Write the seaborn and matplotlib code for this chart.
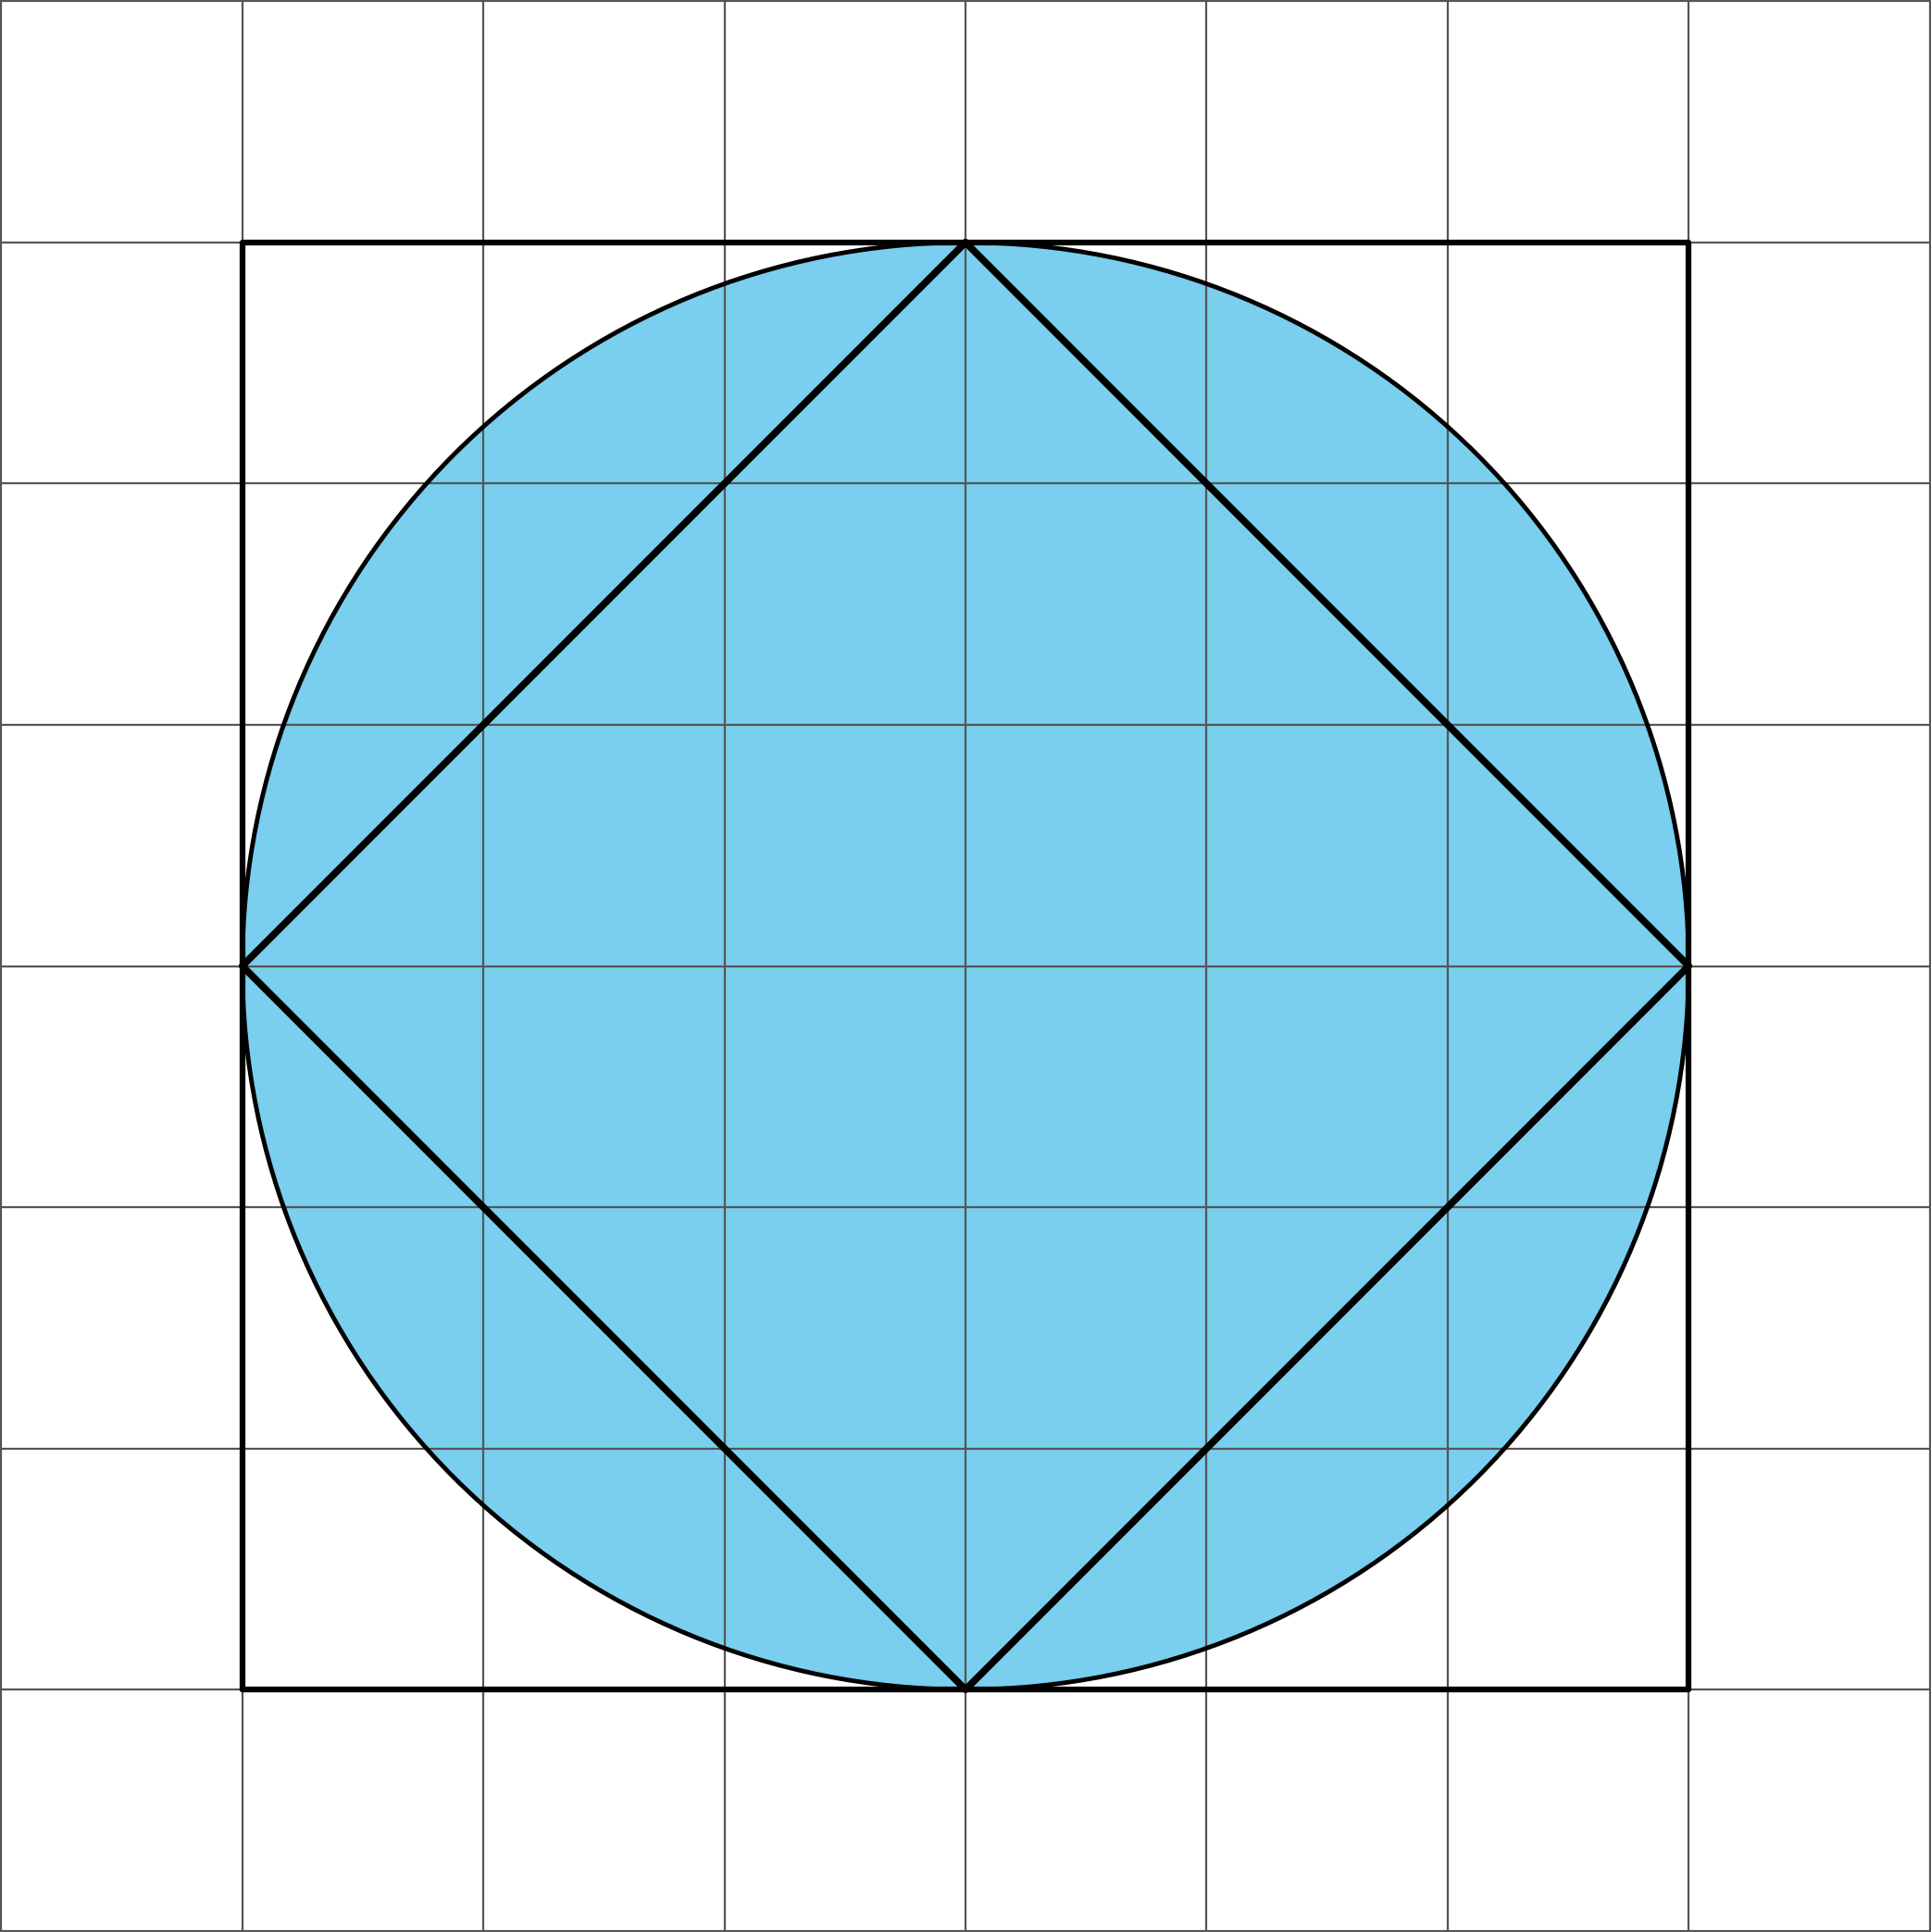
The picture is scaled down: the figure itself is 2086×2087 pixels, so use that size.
import numpy as np
import pandas as pd
import matplotlib.pyplot as plt
import seaborn as sns
from matplotlib.patches import Circle

# grid and shapes in grid units
grid_lines = [0, 1, 2, 3, 4, 5, 6, 7, 8]
square_x = [1, 7, 7, 1, 1]
square_y = [1, 1, 7, 7, 1]
diamond_x = [4, 7, 4, 1, 4]
diamond_y = [7, 4, 1, 4, 7]
circle_center = (4, 4)
circle_radius = 3

sns.set_style("white")
fig = plt.figure(figsize=(20.86, 20.87), dpi=100)
ax = fig.add_axes([0, 0, 1, 1])

for g in grid_lines:
    ax.axvline(g, color="#555555", lw=1.6, zorder=1)
    ax.axhline(g, color="#555555", lw=1.6, zorder=1)

ax.add_patch(Circle(circle_center, circle_radius, facecolor="#7ACEEE",
                    edgecolor="none", zorder=0))
ax.add_patch(Circle(circle_center, circle_radius, facecolor="none",
                    edgecolor="black", lw=3.5, zorder=3))

sq = pd.DataFrame({"x": square_x, "y": square_y})
dm = pd.DataFrame({"x": diamond_x, "y": diamond_y})
sns.lineplot(data=sq, x="x", y="y", sort=False, estimator=None,
             color="black", lw=4.5, ax=ax, zorder=4)
sns.lineplot(data=dm, x="x", y="y", sort=False, estimator=None,
             color="black", lw=5.5, ax=ax, zorder=4)

ax.set_xlim(-0.005, 8.005)
ax.set_ylim(-0.005, 8.005)
ax.set_axis_off()
fig.savefig("out.png", dpi=100)
